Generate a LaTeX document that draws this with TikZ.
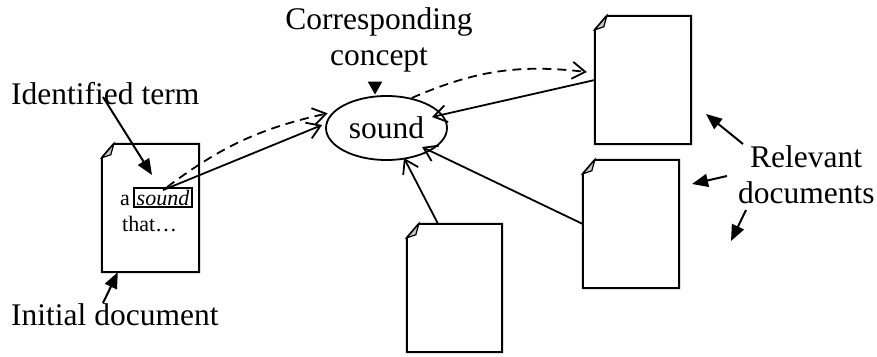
\documentclass[tikz,border=0pt]{standalone}
\usepackage{fontspec}
\setmainfont{Liberation Serif}
\usetikzlibrary{arrows.meta,shapes.geometric}
\begin{document}
\begin{tikzpicture}[x=1pt,y=-1pt,
  lbl/.style={font=\fontsize{31.5}{36}\selectfont, inner sep=0pt, anchor=base west},
  small/.style={font=\fontsize{22}{26}\selectfont, inner sep=0pt, anchor=base west},
  doc/.style={inner sep=0pt, draw=none, minimum height=128pt},
  docline/.style={line width=2pt, line join=miter},
  conn/.style={line width=1.8pt, -{Straight Barb[length=13pt,width=17pt,line width=1.8pt]}},
  dconn/.style={conn, dash pattern=on 9pt off 6pt},
  ptr/.style={line width=2pt, -{Triangle[length=16pt,width=13pt]}}
]
\useasboundingbox (0,0) rectangle (877,356);

% documents
\node[doc, minimum width=97pt] (d1) at (150.5,208) {};
\node[doc, minimum width=96pt] (d2) at (643,80) {};
\node[doc, minimum width=96pt] (d3) at (631,224) {};
\node[doc, minimum width=95pt] (d4) at (454.5,288) {};
\foreach \d in {d1,d2,d3,d4}{
  \draw[docline] ([yshift=-14pt]\d.north west) -- ([xshift=12pt]\d.north west) -- (\d.north east) -- (\d.south east) -- (\d.south west) -- cycle;
  \filldraw[line width=1.2pt, fill=gray!45] ([yshift=-14pt]\d.north west) -- ([xshift=12pt]\d.north west) -- ([xshift=9pt,yshift=-11pt]\d.north west) -- cycle;
}

% text of initial document
\node[small] (a) at (120,205) {a};
\node[draw, line width=1.8pt, minimum width=58pt, minimum height=19pt, inner sep=0pt,
      font=\fontsize{22}{26}\selectfont\itshape] (term) at (163,197.5) {sound};
\node[small] (that) at (122,231) {that…};

% concept
\node[ellipse, draw, line width=1.8pt, minimum width=121pt, minimum height=64pt, inner sep=0pt,
      font=\fontsize{31.5}{36}\selectfont] (e) at (386.5,128) {sound};

% labels
\node[lbl] (idt) at (11,104) {Identified term};
\node[lbl] (ini) at (11,325) {Initial document};
\node[lbl, anchor=base] (cor1) at (379,29) {Corresponding};
\node[lbl, anchor=base] (cor2) at (379,65) {concept};
\node[lbl] (rel1) at (750,167) {Relevant};
\node[lbl] (rel2) at (738,203) {documents};

% pointer arrows
\coordinate (p1s) at (103,97);
\coordinate (p1e) at (152,175);
\draw[ptr] (p1s) -- (p1e);
\coordinate (p2s) at (103,303);
\draw[ptr] (p2s) -- ([xshift=16pt]d1.south west);
\draw[line width=2pt, -{Triangle[length=13pt,width=14pt]}] ([xshift=-11.5pt,yshift=13.5pt]e.north) -- ([xshift=-11.5pt,yshift=0.5pt]e.north);
\coordinate (r1s) at (743,144);
\coordinate (r1e) at (706,114);
\coordinate (r2s) at (727,176);
\coordinate (r2e) at (692,184);
\coordinate (r3s) at (746,210);
\coordinate (r3e) at (731,241);
\draw[ptr] (r1s) -- (r1e);
\draw[ptr] (r2s) -- (r2e);
\draw[ptr] (r3s) -- (r3e);

% connectors
\draw[conn] ([yshift=-3pt]term.north) -- ([xshift=-3pt,yshift=3pt]e.west);
\draw[dconn] ([xshift=4pt]term.north) to[bend left=12] ([xshift=-4pt]e.165);
\coordinate (d2in) at ([xshift=-8pt,yshift=8pt]d2.west);
\draw[dconn] (e.50) to[bend left=15] (d2in);
\draw[conn] (d2.west) -- ([xshift=45.5pt,yshift=11pt]e.center);
\draw[conn] (d3.west) -- ([xshift=35.5pt,yshift=-19pt]e.center);
\draw[conn] ([xshift=-16.5pt]d4.north) -- ([xshift=17.5pt,yshift=-30pt]e.center);
\end{tikzpicture}
\end{document}
